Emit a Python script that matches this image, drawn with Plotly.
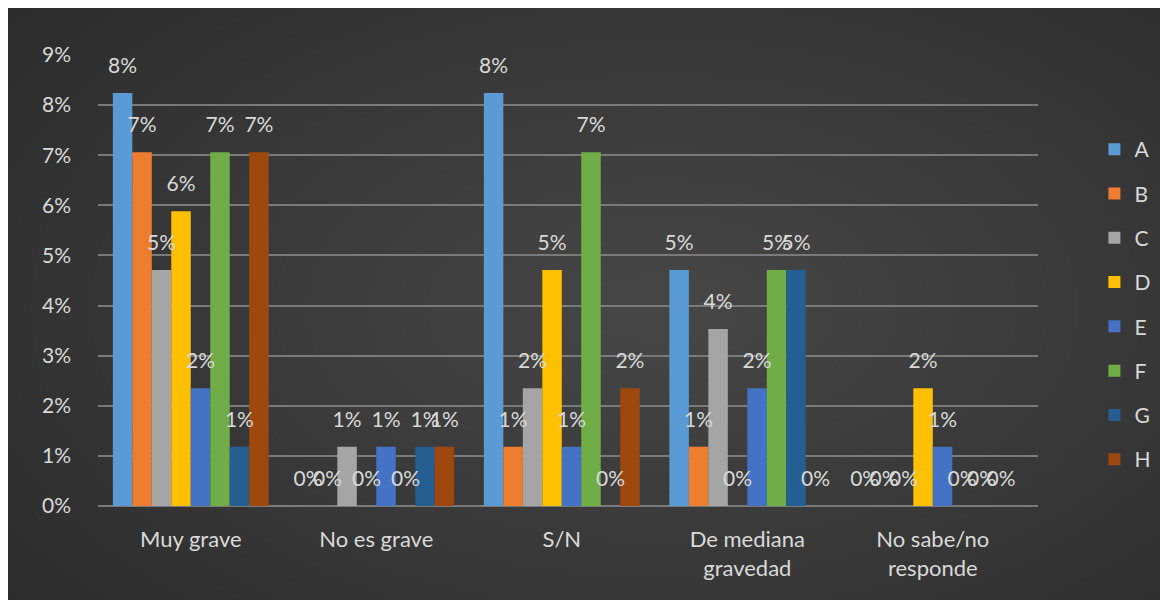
import plotly.graph_objects as go

categories = ["Muy grave", "No es grave", "S/N", "De mediana<br>gravedad", "No sabe/no<br>responde"]
series_names = ["A", "B", "C", "D", "E", "F", "G", "H"]
A = [8.24, 0.0, 8.24, 4.71, 0.0]
B = [7.06, 0.0, 1.18, 1.18, 0.0]
C = [4.71, 1.18, 2.35, 3.53, 0.0]
D = [5.88, 0.0, 4.71, 0.0, 2.35]
E = [2.35, 1.18, 1.18, 2.35, 1.18]
F = [7.06, 0.0, 7.06, 4.71, 0.0]
G = [1.18, 1.18, 0.0, 4.71, 0.0]
H = [7.06, 1.18, 2.35, 0.0, 0.0]
series_values = [A, B, C, D, E, F, G, H]
colors = ["#5B9BD5", "#ED7D31", "#A5A5A5", "#FFC000", "#4472C4", "#70AD47", "#255E91", "#9E480E"]
y_ticks = [0, 1, 2, 3, 4, 5, 6, 7, 8, 9]
y_tick_labels = ["0%", "1%", "2%", "3%", "4%", "5%", "6%", "7%", "8%", "9%"]

W, Hh = 1160, 592
L, R, T, B_ = 90, 120, 47, 94
pw, ph = W - L - R, Hh - T - B_

def px(x):
    return (x - L) / pw

def py(y):
    return (Hh - B_ - y) / ph

FONT = "Lato"
TXT = "#d9d9d9"
GAP = 0.16

fig = go.Figure()
for name, vals, col in zip(series_names, series_values, colors):
    fig.add_trace(go.Bar(
        name=name, x=categories, y=vals, marker=dict(color=col, line=dict(width=0)),
        legendgroup=name, offsetgroup=name, hoverinfo="skip",
    ))
for name, vals in zip(series_names, series_values):
    fig.add_trace(go.Scatter(
        x=categories, y=vals, mode="markers+text", text=vals, texttemplate="%{y:.0f}%",
        textposition="top center", textfont=dict(family=FONT, size=21, color=TXT),
        marker=dict(size=22, opacity=0), cliponaxis=False, showlegend=False,
        legendgroup=name, offsetgroup=name, hoverinfo="skip",
    ))

shapes = []
cx, cy = 660, 300
n = 30
for i in range(n):
    rx = 980 - i * 31
    ry = 560 - i * 18
    shapes.append(dict(type="circle", xref="paper", yref="paper",
                       x0=px(cx - rx), x1=px(cx + rx), y0=py(cy + ry), y1=py(cy - ry),
                       fillcolor="#ffffff", opacity=0.0075, line=dict(width=0), layer="below"))

fig.update_layout(
    width=W, height=Hh,
    margin=dict(l=L, r=R, t=T, b=B_),
    paper_bgcolor="#272727", plot_bgcolor="rgba(0,0,0,0)",
    barmode="group", bargap=GAP, bargroupgap=0,
    scattermode="group", scattergap=GAP,
    font=dict(family=FONT, size=21, color=TXT),
    shapes=shapes,
    showlegend=True,
    legend=dict(x=px(1097), y=py(121), xanchor="left", yanchor="top",
                font=dict(family=FONT, size=21, color=TXT), tracegroupgap=14,
                bgcolor="rgba(0,0,0,0)", itemwidth=30),
    xaxis=dict(range=[-0.5, 4.567], showgrid=False, showline=False, zeroline=False, ticks="",
               tickfont=dict(family=FONT, size=22, color=TXT), ticklabelstandoff=18),
    yaxis=dict(range=[0, 9], tickvals=y_ticks, ticktext=y_tick_labels, showgrid=True,
               gridcolor="#7a7a7a", gridwidth=2, zeroline=True, zerolinecolor="#7a7a7a", zerolinewidth=2,
               showline=False, ticks="", tickfont=dict(family=FONT, size=21, color=TXT),
               ticklabelstandoff=26),
)

fig.write_html("out.html")
